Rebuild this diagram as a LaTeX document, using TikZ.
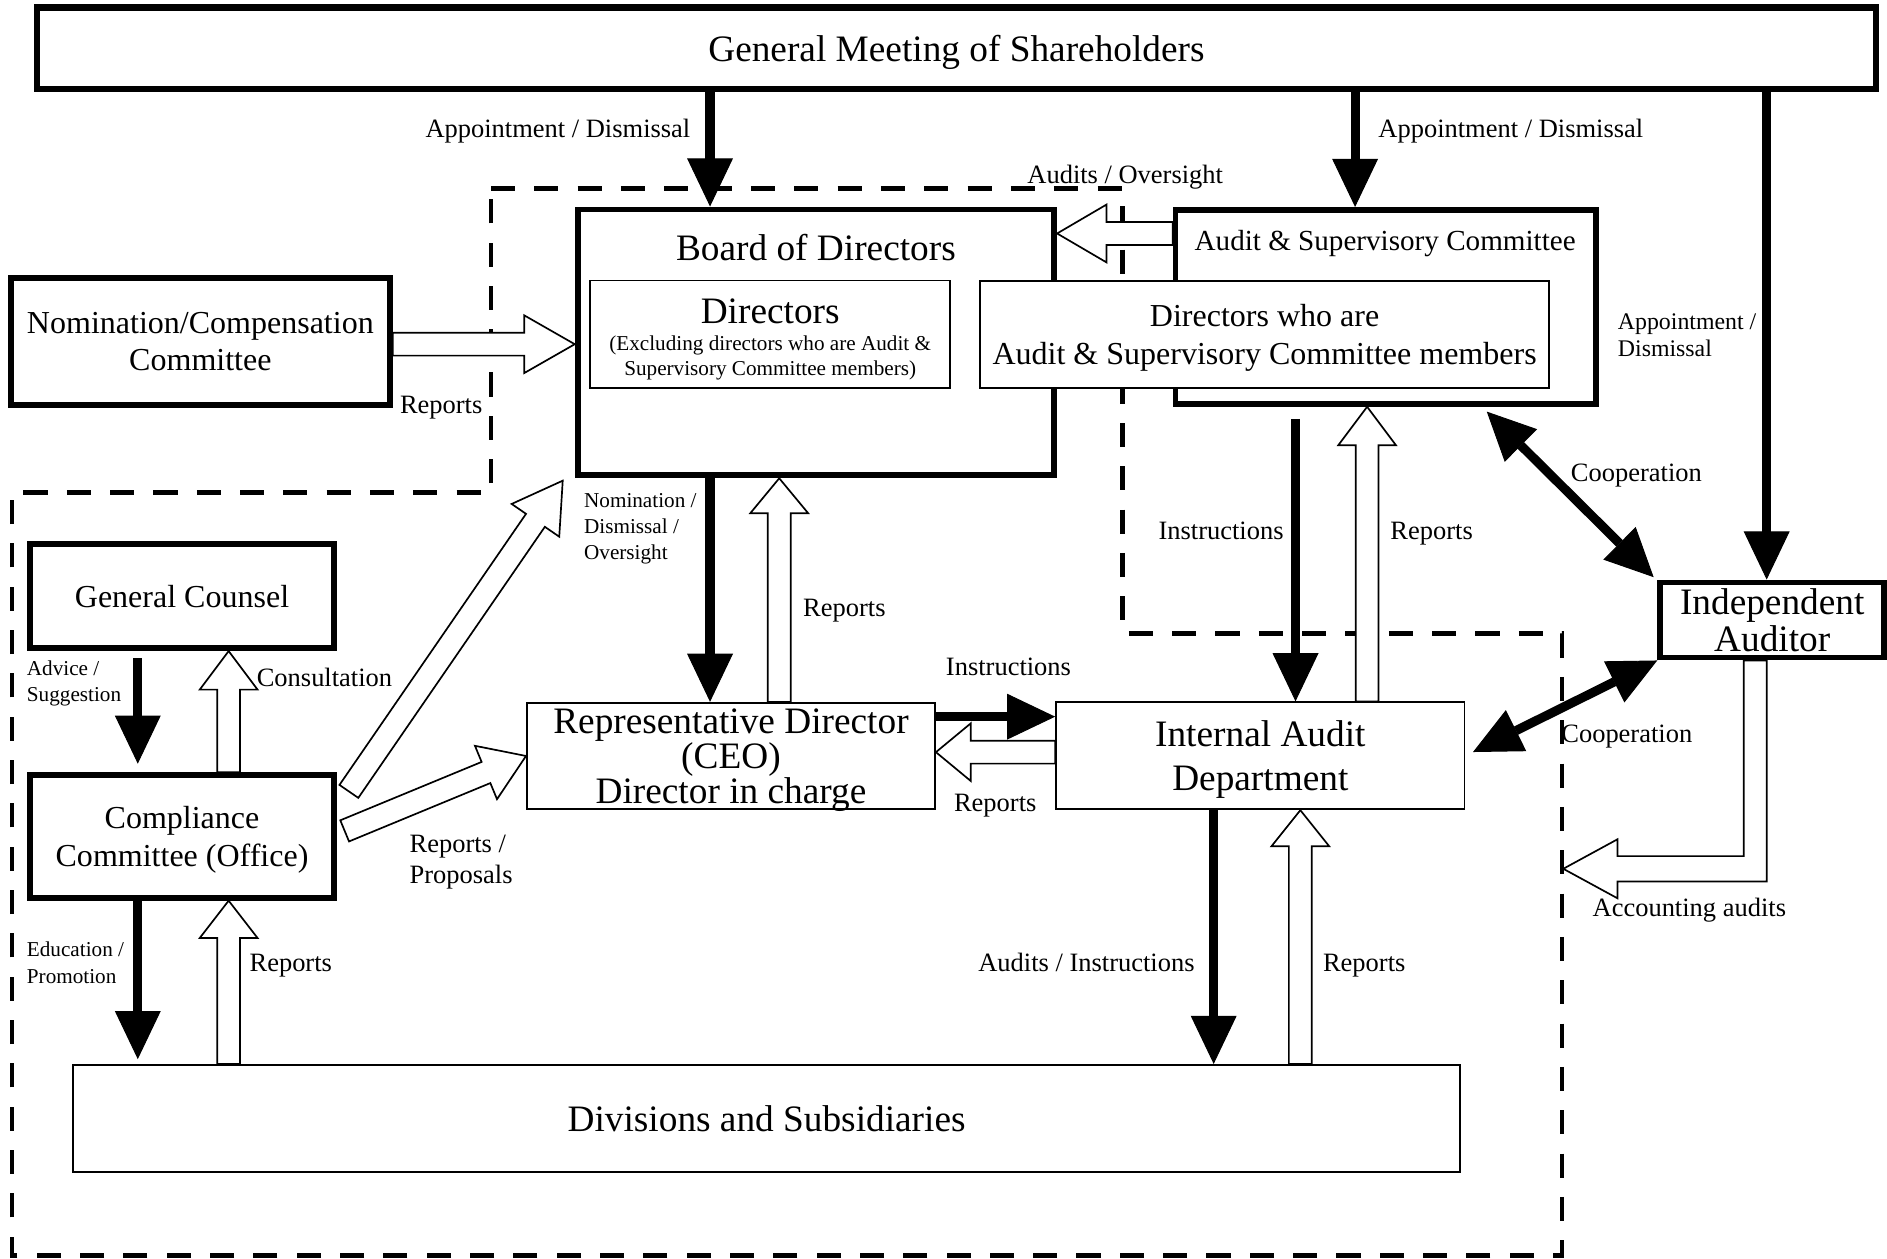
\documentclass[tikz,border=0pt]{standalone}
\usepackage{fontspec}
\setmainfont{Liberation Serif}
\usetikzlibrary{arrows.meta,calc}
\pgfdeclarelayer{bg}
\pgfdeclarelayer{conn}
\pgfsetlayers{bg,conn,main}

\newcommand{\bigfs}{\fontsize{15.5}{15.5}\selectfont}
\newcommand{\midfs}{\fontsize{13.3}{16}\selectfont}
\newcommand{\lblfs}{\fontsize{11}{13}\selectfont}
\newcommand{\smallfs}{\fontsize{8.8}{10.75}\selectfont}

\tikzset{
  thickbox/.style={draw, line width=2.4pt, fill=white, align=center, inner sep=0pt, text depth=0pt},
  thinbox/.style={draw, line width=0.7pt, fill=white, align=center, inner sep=0pt, text depth=0pt},
  cmd/.style={line width=3.8pt},
  hollow/.style={draw, line width=0.7pt, fill=white, line join=miter},
  fence/.style={line width=2pt, dash pattern=on 10pt off 8pt},
  lbl/.style={font=\lblfs, inner sep=0pt, align=left, text depth=0pt}
}

% hollow block arrow: [head length]{tail}{tip}
\newcommand{\blockarrow}[3][15.5pt]{%
  \coordinate (bt) at (#2);
  \coordinate (bh) at (#3);
  \coordinate (bb) at ($(bh)!#1!(bt)$);
  \draw [hollow] ($(bt)!4.75pt!90:(bh)$) -- ($(bb)!4.75pt!90:(bh)$) -- ($(bb)!12pt!90:(bh)$) -- (bh)
    -- ($(bb)!12pt!-90:(bh)$) -- ($(bb)!4.75pt!-90:(bh)$) -- ($(bt)!4.75pt!-90:(bh)$) -- cycle;
}

\begin{document}
\begin{tikzpicture}[x=0.5pt,y=-0.5pt,>={Triangle[length=20pt,width=19pt,line width=0.4pt]}]
\useasboundingbox (0,0) rectangle (1568,1046);

%boxes
\path (794.75,40) node (gm) [thickbox, line width=2.8pt, minimum width=764pt, minimum height=34pt, font=\bigfs] {General Meeting of Shareholders};
\path (678,284.5) node (board) [thickbox, minimum width=198pt, minimum height=110.5pt] {};
\path (1151.4,255) node (asc) [thickbox, minimum width=174.6pt, minimum height=80.6pt] {};
\path (639.7,277.8) node (dirs) [thinbox, minimum width=149.7pt, minimum height=44.8pt] {};
\path (1050.8,278) node (ascdirs) [thinbox, minimum width=236.4pt, minimum height=44.6pt, font=\midfs] {Directors who are\\Audit \& Supervisory Committee members};
\path (166.5,283.75) node (ncc) [thickbox, minimum width=157.5pt, minimum height=52.75pt, font=\fontsize{13.3}{15.5}\selectfont] {Nomination/Compensation\\Committee};
\path (151.25,495.3) node (gc) [thickbox, minimum width=126.25pt, minimum height=43.3pt, font=\midfs] {General Counsel};
\path (151.25,695) node (cc) [thickbox, minimum width=126.25pt, minimum height=51pt, font=\midfs] {Compliance\\Committee (Office)};
\path (607.4,628.15) node (rep) [thinbox, minimum width=169.6pt, minimum height=44.25pt, font=\fontsize{15.5}{14.5}\selectfont] {Representative Director\\(CEO)\\Director in charge};
\path (1047.25,628) node (iad) [thinbox, minimum width=169.75pt, minimum height=44.5pt, font=\fontsize{15.5}{18.5}\selectfont] {Internal Audit\\Department};
\path (1472.6,515.2) node (ia) [thickbox, text depth=, minimum width=93.1pt, minimum height=31.2pt, font=\bigfs] {Independent\\Auditor};
\path (637,929.3) node (div) [thinbox, line width=0.9pt, minimum width=576pt, minimum height=44.3pt, font=\bigfs] {Divisions and Subsidiaries};

\path (678,206) node (boardtxt) [font=\bigfs] {Board of Directors};
\path (1151,202.5) node (asctxt) [font=\fontsize{12.1}{14}\selectfont] {Audit \& Supervisory Committee};
\path (640,259) node (dirstxt) [font=\bigfs] {Directors};
\path (640,297.5) node (dirsnote) [font=\fontsize{8.8}{10.5}\selectfont, align=center] {(Excluding directors who are Audit \&\\Supervisory Committee members)};

%columns and rows of the connectors
\coordinate (xbrd) at (590,0);
\coordinate (xasc) at (1126,0);
\coordinate (xia) at (1468,0);
\coordinate (xrep) at (647.5,0);
\coordinate (xins) at (1076.5,0);
\coordinate (xrpt) at (1136,0);
\coordinate (xaud) at (1008.5,0);
\coordinate (xdiv) at (1080.5,0);
\coordinate (xcc) at (114.5,0);
\coordinate (xcon) at (190,0);
\coordinate (yncc) at (0,286);
\coordinate (yaso) at (0,194);
\coordinate (yins) at (0,595.5);
\coordinate (yrpt) at (0,625);

\begin{pgfonlayer}{bg}
\draw [fence] (408,156.5) -- (933,156.5) -- (933,526.5) -- (1298,526.5) -- (1298,1043) -- (10,1043) -- (10,409) -- (408,409) -- cycle;
\end{pgfonlayer}

\begin{pgfonlayer}{conn}
\draw [cmd,->] (gm.south -| xbrd) -- (board.north -| xbrd);
\draw [cmd,->] (gm.south -| xasc) -- (asc.north -| xasc);
\draw [cmd,->] (gm.south -| xia) -- (ia.north -| xia);
\draw [cmd,->] (board.south -| xbrd) -- (rep.north -| xbrd);
\draw [cmd,->,shorten <=5pt] (asc.south -| xins) -- (iad.north -| xins);
\draw [cmd,->] (rep.east |- yins) -- (iad.west |- yins);
\draw [cmd,->] (iad.south -| xaud) -- (div.north -| xaud);
\draw [cmd,->,shorten <=3pt,shorten >=3.5pt] (gc.south -| xcc) -- (cc.north -| xcc);
\draw [cmd,->,shorten >=2pt] (cc.south -| xcc) -- (div.north -| xcc);
\draw [cmd,<->] ([xshift=-46.5pt,yshift=-2pt]asc.south east) -- ([shift={(-1.5pt,1pt)}]ia.north west);
\draw [cmd,<->,shorten >=3.5pt] (ia.south west) -- (iad.east);

\blockarrow[21pt]{ncc.east |- yncc}{board.west |- yncc}
\blockarrow[20.5pt]{asc.west |- yaso}{board.east |- yaso}
\blockarrow[14.5pt]{rep.north -| xrep}{board.south -| xrep}
\blockarrow[16pt]{iad.north -| xrpt}{asc.south -| xrpt}
\blockarrow[14.5pt]{iad.west |- yrpt}{rep.east |- yrpt}
\blockarrow[15pt]{div.north -| xdiv}{iad.south -| xdiv}
\blockarrow[16pt]{cc.north -| xcon}{gc.south -| xcon}
\blockarrow{div.north -| xcon}{cc.south -| xcon}
\blockarrow[20pt]{[xshift=5pt,yshift=-8pt]cc.north east}{[xshift=-5pt,yshift=-1pt]board.south west}
\blockarrow[18pt]{[xshift=3.25pt,yshift=2.3pt]cc.east}{rep.west}

\draw [hollow] ([xshift=-11.8pt]ia.south) -- ++(0,162.6) -- ++(-105,0) -- ++(0,-14) -- ++(-45,24.5)
  -- ++(45,24.5) -- ++(0,-14) -- ++(124,0) -- ([xshift=-2.3pt]ia.south) -- cycle;
\end{pgfonlayer}

%labels
\path (574,107) node (l1) [lbl, anchor=east] {Appointment / Dismissal};
\path (1145,107) node (l2) [lbl, anchor=west] {Appointment / Dismissal};
\path (935,145) node (l3) [lbl] {Audits / Oversight};
\path (332,336) node (l4) [lbl, anchor=west] {Reports};
\path (485,437.5) node (l5) [lbl, anchor=west, font=\smallfs] {Nomination /\\Dismissal /\\Oversight};
\path (667,505) node (l6) [lbl, anchor=west] {Reports};
\path (1067,441) node (l7) [lbl, anchor=east] {Instructions};
\path (1155,441) node (l8) [lbl, anchor=west] {Reports};
\path (1344,278.5) node (l9) [lbl, anchor=west, font=\fontsize{9.9}{11.5}\selectfont] {Appointment /\\Dismissal};
\path (1305,393) node (l10) [lbl, anchor=west] {Cooperation};
\path (1297,610) node (l11) [lbl, anchor=west] {Cooperation};
\path (1323,754) node (l12) [lbl, anchor=west] {Accounting audits};
\path (838,554) node (l13) [lbl] {Instructions};
\path (827,667) node (l14) [lbl] {Reports};
\path (993,800) node (l15) [lbl, anchor=east] {Audits / Instructions};
\path (1099,800) node (l16) [lbl, anchor=west] {Reports};
\path (22,566) node (l17) [lbl, anchor=west, font=\fontsize{8.8}{11}\selectfont] {Advice /\\Suggestion};
\path (213,563) node (l18) [lbl, anchor=west] {Consultation};
\path (340,714) node (l19) [lbl, anchor=west] {Reports /\\Proposals};
\path (22,800) node (l20) [lbl, anchor=west, font=\fontsize{8.8}{11}\selectfont] {Education /\\Promotion};
\path (207,800) node (l21) [lbl, anchor=west] {Reports};

\end{tikzpicture}
\end{document}
